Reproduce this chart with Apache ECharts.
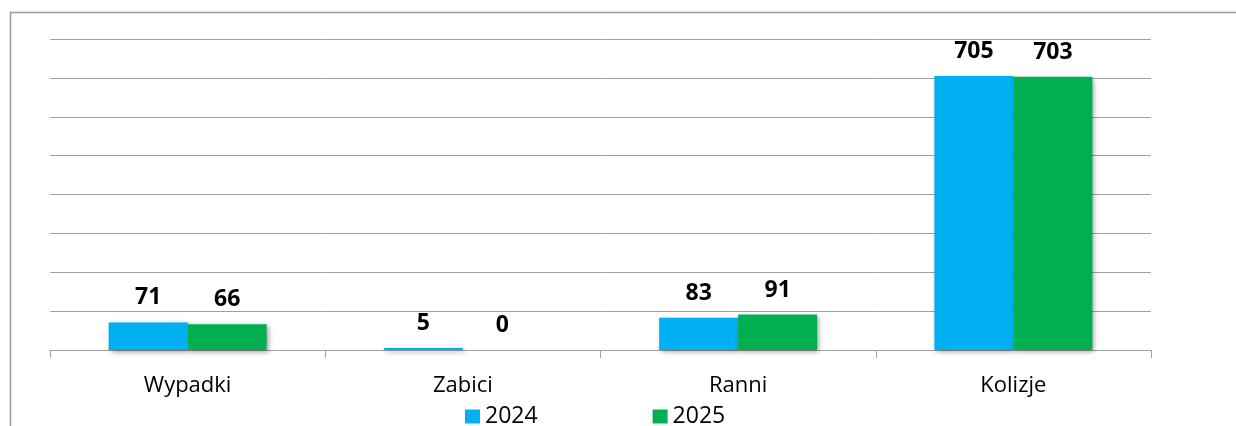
<!DOCTYPE html>
<html>
<head>
<meta charset="utf-8">
<script src="https://cdn.jsdelivr.net/npm/echarts@6/dist/echarts.min.js"></script>
<style>
  html, body { margin: 0; padding: 0; background: #fff; }
  #main { width: 1236px; height: 426px; }
</style>
</head>
<body>
<div id="main"></div>
<script>
// dane z wykresu
const categories = ['Wypadki', 'Zabici', 'Ranni', 'Kolizje']
const values2024 = [71, 5, 83, 705]
const values2025 = [66, 0, 91, 703]
const seriesNames = ['2024', '2025']

const font = '"Open Sans", "Noto Sans", sans-serif'
const shadow = {
  shadowColor: 'rgba(0,0,0,0.4)',
  shadowBlur: 5,
  shadowOffsetX: 2,
  shadowOffsetY: 2,
}

const chart = echarts.init(document.getElementById('main'))
chart.setOption({
  animation: false,
  backgroundColor: '#fff',
  graphic: [
    {
      type: 'polyline',
      silent: true,
      shape: { points: [[10.5, 426], [10.5, 12.5], [1236, 12.5]] },
      style: { stroke: '#999', lineWidth: 1.5, fill: null },
    },
  ],
  grid: {
    left: 50,
    right: 85,
    top: 39,
    bottom: 76,
  },
  legend: {
    left: 465,
    top: 405,
    padding: 0,
    icon: 'rect',
    itemWidth: 15,
    itemHeight: 14,
    itemGap: 115,
    textStyle: { fontFamily: font, fontSize: 23, color: '#000' },
    data: seriesNames,
  },
  xAxis: {
    type: 'category',
    data: categories,
    axisLine: { lineStyle: { color: '#a0a0a0', width: 1 } },
    axisTick: { show: true, length: 8, lineStyle: { color: '#a0a0a0' } },
    axisLabel: { margin: 25, fontFamily: font, fontSize: 22, color: '#000' },
  },
  yAxis: {
    type: 'value',
    min: 0,
    max: 800,
    interval: 100,
    axisLabel: { show: false },
    axisLine: { show: false },
    axisTick: { show: false },
    splitLine: { lineStyle: { color: '#a0a0a0', width: 1 } },
  },
  series: [
    {
      name: seriesNames[0],
      type: 'bar',
      data: values2024,
      barWidth: 79,
      barGap: '0%',
      itemStyle: Object.assign({ color: '#00B0F0' }, shadow),
      label: {
        show: true,
        position: 'top',
        distance: 13,
        fontFamily: font,
        fontSize: 23,
        fontWeight: 'bold',
        color: '#000',
      },
    },
    {
      name: seriesNames[1],
      type: 'bar',
      data: values2025,
      barWidth: 79,
      barGap: '0%',
      itemStyle: Object.assign({ color: '#00B050' }, shadow),
      label: {
        show: true,
        position: 'top',
        distance: 13,
        fontFamily: font,
        fontSize: 23,
        fontWeight: 'bold',
        color: '#000',
      },
    },
  ],
})
</script>
</body>
</html>
